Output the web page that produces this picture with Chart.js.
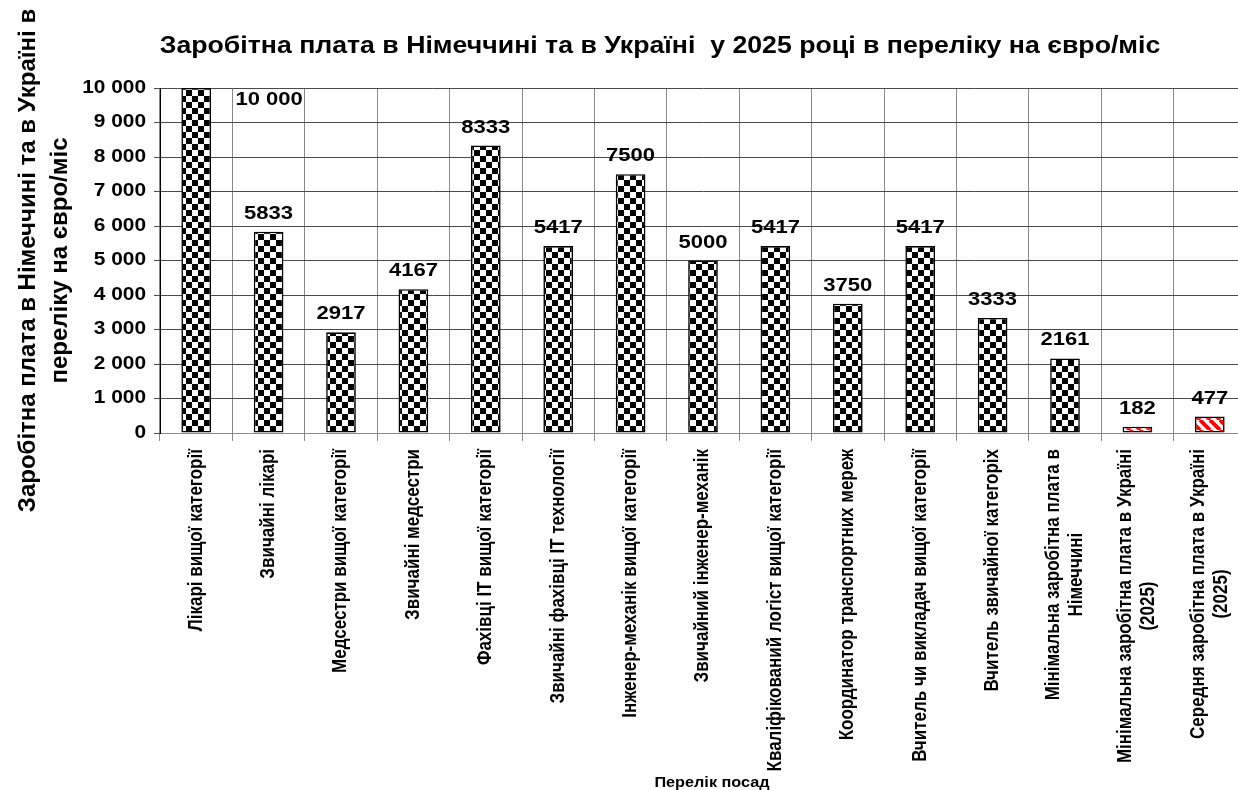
<!DOCTYPE html>
<html lang="uk">
<head>
<meta charset="utf-8">
<title>Заробітна плата</title>
<script src="https://cdn.jsdelivr.net/npm/chart.js@4.4.1/dist/chart.umd.min.js"></script>
<style>
    html, body { margin: 0; padding: 0; background: #fff; overflow: hidden; }
    #wrap { width: 1250px; height: 790px; }
</style>
</head>
<body>
<div id="wrap"><canvas id="salaryChart" width="1250" height="790"></canvas></div>
<script>
// посади (категорії)
var posadLabels = [
    ["Лікарі вищої категорії"],
    ["Звичайні лікарі"],
    ["Медсестри вищої категорії"],
    ["Звичайні медсестри"],
    ["Фахівці IT вищої категорії"],
    ["Звичайні фахівці IT технології"],
    ["Інженер-механік вищої категорії"],
    ["Звичайний інженер-механік"],
    ["Кваліфікований логіст вищої категорії"],
    ["Координатор транспортних мереж"],
    ["Вчитель чи викладач вищої категорії"],
    ["Вчитель звичайної категоріх"],
    ["Мінімальна заробітна плата в", "Німеччині"],
    ["Мінімальна заробітна плата в Україні", "(2025)"],
    ["Середня заробітна плата в Україні", "(2025)"]
];

// зарплата, євро/міс
var salaryValues = [10000, 5833, 2917, 4167, 8333, 5417, 7500, 5000, 5417, 3750, 5417, 3333, 2161, 182, 477];

// які стовпці - Україна (червона штриховка)
var ukraineFlags = [false, false, false, false, false, false, false, false, false, false, false, false, false, true, true];

// шкала Y
var yMin = 0;
var yMax = 10000;
var yStep = 1000;

var chartTitle = "Заробітна плата в Німеччині та в Україні  у 2025 році в переліку на євро/міс";
var yTitle = ["Заробітна плата в Німеччині та в Україні в", "переліку на євро/міс"];
var xTitle = "Перелік посад";

var FONT = "'Liberation Sans', Arial, sans-serif";
var SX = 1.16; // текст у оригіналі трохи розтягнутий по горизонталі

function groupNum(v) {
    return String(v).replace(/\B(?=(\d{3})+(?!\d))/g, ' ');
}

// текст з горизонтальним розтягом
function wideText(ctx, txt, x, y) {
    ctx.save();
    ctx.translate(x, y);
    ctx.scale(SX, 1);
    ctx.fillText(txt, 0, 0);
    ctx.restore();
}

//візерунки
function makeChecker() {
    var c = document.createElement('canvas');
    c.width = 12; c.height = 12;
    var g = c.getContext('2d');
    g.fillStyle = '#fff';
    g.fillRect(0, 0, 12, 12);
    g.fillStyle = '#000';
    g.fillRect(0, 0, 6, 6);
    g.fillRect(6, 6, 6, 6);
    return g.createPattern(c, 'repeat');
}

function makeStripes() {
    var c = document.createElement('canvas');
    c.width = 10; c.height = 10;
    var g = c.getContext('2d');
    g.fillStyle = '#fff';
    g.fillRect(0, 0, 10, 10);
    g.strokeStyle = '#ff0000';
    g.lineWidth = 3.8;
    g.beginPath();
    for (var k = -10; k <= 20; k += 10) {
        g.moveTo(k, 0);
        g.lineTo(k + 10, 10);
    }
    g.stroke();
    return g.createPattern(c, 'repeat');
}

var checker = makeChecker();
var stripes = makeStripes();
var barFills = ukraineFlags.map(f => f ? stripes : checker);

// підписи значень, підписи осей, заголовок
var textPlugin = {
    id: 'textPlugin',
    afterDraw(chart) {
        var ctx = chart.ctx;
        var area = chart.chartArea;
        var xs = chart.scales.x;
        var ys = chart.scales.y;
        var meta = chart.getDatasetMeta(0);

        ctx.save();
        ctx.fillStyle = '#000';

        // заголовок
        ctx.font = 'bold 23px ' + FONT;
        ctx.textAlign = 'center';
        ctx.textBaseline = 'middle';
        wideText(ctx, chartTitle, 660, 47);

        // підписи осі Y
        ctx.font = 'bold 18px ' + FONT;
        ctx.textAlign = 'right';
        ctx.textBaseline = 'middle';
        ys.ticks.forEach(function (t) {
            wideText(ctx, groupNum(t.value), 146, ys.getPixelForValue(t.value));
        });

        // значення над стовпцями
        ctx.font = 'bold 19px ' + FONT;
        var catW = (area.right - area.left) / posadLabels.length;
        meta.data.forEach(function (bar, i) {
            var v = salaryValues[i];
            var txt = v >= 10000 ? groupNum(v) : String(v);
            if (bar.y - 28 < area.top) {
                ctx.textAlign = 'left';
                ctx.textBaseline = 'top';
                wideText(ctx, txt, xs.getPixelForTick(i) + catW / 2 + 3, area.top + 2);
            } else {
                ctx.textAlign = 'center';
                ctx.textBaseline = 'alphabetic';
                wideText(ctx, txt, bar.x, bar.y - 13);
            }
        });

        // підписи категорій (повернуті)
        ctx.font = 'bold 17px ' + FONT;
        ctx.textAlign = 'center';
        ctx.textBaseline = 'middle';
        var lh = 23;
        posadLabels.forEach(function (lines, i) {
            var px = xs.getPixelForTick(i);
            var maxW = 0;
            lines.forEach(l => { maxW = Math.max(maxW, ctx.measureText(l).width); });
            var cy = area.bottom + 16 + maxW / 2;
            ctx.save();
            ctx.translate(px, cy);
            ctx.rotate(-Math.PI / 2);
            ctx.scale(1, SX);
            lines.forEach(function (l, j) {
                ctx.fillText(l, 0, (j - (lines.length - 1) / 2) * lh / SX);
            });
            ctx.restore();
        });

        // назва осі X
        ctx.font = 'bold 14px ' + FONT;
        ctx.textAlign = 'center';
        ctx.textBaseline = 'middle';
        wideText(ctx, xTitle, 712, 783);

        ctx.restore();
    }
};

var ctx = document.getElementById('salaryChart').getContext('2d');
var myChart = new Chart(ctx, {
    type: 'bar',
    data: {
        labels: posadLabels.map(l => l.join(' ')),
        datasets: [{
            data: salaryValues,
            backgroundColor: barFills,
            borderColor: '#000',
            borderWidth: 1.6,
            borderSkipped: false,
            barPercentage: 0.41,
            categoryPercentage: 1.0
        }]
    },
    plugins: [textPlugin],
    options: {
        responsive: false,
        animation: false,
        devicePixelRatio: 1,
        layout: {
            padding: { top: 88, right: 4, left: 0, bottom: 0 }
        },
        plugins: {
            legend: { display: false },
            tooltip: { enabled: false },
            title: { display: false }
        },
        scales: {
            x: {
                type: 'category',
                offset: true,
                ticks: { display: false },
                grid: {
                    offset: true,
                    color: '#8a8a8a',
                    lineWidth: 1,
                    tickLength: 8
                },
                border: { color: '#8a8a8a', width: 1 },
                afterFit: function (s) { s.height = 790 - 433; }
            },
            y: {
                min: yMin,
                max: yMax,
                ticks: {
                    stepSize: yStep,
                    display: false
                },
                grid: {
                    color: '#4a4a4a',
                    lineWidth: 1,
                    tickLength: 6
                },
                border: { color: '#000', width: 1 },
                title: {
                    display: true,
                    text: yTitle,
                    color: '#000',
                    font: { family: FONT, size: 24, weight: 'bold', lineHeight: 1.34 },
                    padding: { top: 12, bottom: 0 }
                },
                afterFit: function (s) { s.width = 160; }
            }
        }
    }
});
</script>
</body>
</html>
